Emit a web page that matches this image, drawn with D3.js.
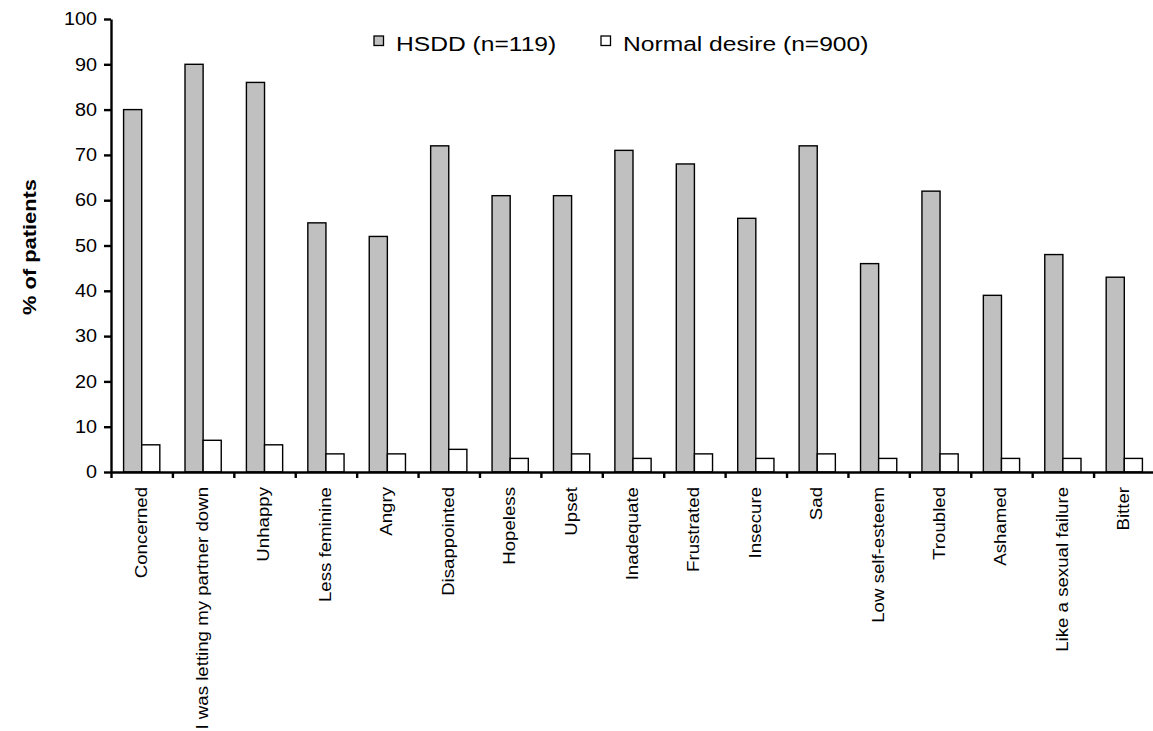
<!DOCTYPE html>
<html>
<head>
<meta charset="utf-8">
<script src="https://cdn.jsdelivr.net/npm/d3@7"></script>
<style>
  html, body { margin: 0; padding: 0; background: #fff; }
  svg { display: block; font-family: "Liberation Sans", Arial, sans-serif; }
</style>
</head>
<body>
<svg id="chart" width="1153" height="731"></svg>
<script>
// ─── Data ────────────────────────────────────────────────────────────────────
const categories = [
  'Concerned', 'I was letting my partner down', 'Unhappy', 'Less feminine',
  'Angry', 'Disappointed', 'Hopeless', 'Upset', 'Inadequate', 'Frustrated',
  'Insecure', 'Sad', 'Low self-esteem', 'Troubled', 'Ashamed',
  'Like a sexual failure', 'Bitter'
];
const seriesNames = ['HSDD (n=119)', 'Normal desire (n=900)'];
const hsdd   = [80, 90, 86, 55, 52, 72, 61, 61, 71, 68, 56, 72, 46, 62, 39, 48, 43];
const normal = [ 6,  7,  6,  4,  4,  5,  3,  4,  3,  4,  3,  4,  3,  4,  3,  3,  3];
const yTicks = [0, 10, 20, 30, 40, 50, 60, 70, 80, 90, 100];
const yTitle = '% of patients';

// ─── Layout ──────────────────────────────────────────────────────────────────
const X0 = 111, X1 = 1155;   // x axis extent
const Y0 = 472, Y1 = 19;     // y=0 and y=100
const FILLS = ['#c0c0c0', '#ffffff'];

// stretch a text along its baseline by k (source glyphs are wider than Arial)
function stretch(sel, k) {
  sel.each(function () {
    const len = this.getComputedTextLength();
    d3.select(this).attr('textLength', len * k).attr('lengthAdjust', 'spacingAndGlyphs');
  });
}

const svg = d3.select('#chart');

const x = d3.scaleBand()
  .domain(categories)
  .range([X0, X1])
  .paddingInner(0.41)
  .paddingOuter(0.205);

const xSub = d3.scaleBand()
  .domain(seriesNames)
  .range([0, x.bandwidth()]);

const y = d3.scaleLinear().domain([0, 100]).range([Y0, Y1]);

// boundary ticks sit between categories
const xEdge = d3.scaleLinear().domain([0, categories.length]).range([X0, X1]);

const rows = categories.map((c, i) => ({ cat: c, values: [hsdd[i], normal[i]] }));

// ── Bars ───────────────────────────────────────────────────────────────────
const group = svg.append('g')
  .selectAll('g')
  .data(rows)
  .join('g')
  .attr('transform', d => `translate(${x(d.cat)},0)`);

group.selectAll('rect')
  .data(d => d.values.map((v, k) => ({ name: seriesNames[k], v, k })))
  .join('rect')
  .attr('x', d => xSub(d.name))
  .attr('y', d => y(d.v))
  .attr('width', xSub.bandwidth())
  .attr('height', d => y(0) - y(d.v))
  .attr('fill', d => FILLS[d.k])
  .attr('stroke', '#000')
  .attr('stroke-width', 1.4);

// ── Y axis ─────────────────────────────────────────────────────────────────
const yAxis = svg.append('g')
  .attr('transform', `translate(${X0},0)`)
  .call(d3.axisLeft(y).tickValues(yTicks).tickSize(7).tickPadding(7).tickSizeOuter(0));
yAxis.select('.domain').attr('stroke-width', 2.4);
yAxis.selectAll('.tick line').attr('stroke-width', 2.4);
yAxis.selectAll('.tick text')
  .style('font-size', '18px')
  .style('font-family', '"Liberation Sans", Arial, sans-serif')
  .attr('fill', '#000')
  .call(stretch, 1.1);

// ── X axis ─────────────────────────────────────────────────────────────────
const xAxis = svg.append('g')
  .attr('transform', `translate(0,${Y0})`)
  .call(d3.axisBottom(xEdge).tickValues(d3.range(categories.length + 1))
    .tickFormat('').tickSize(6).tickSizeOuter(0));
xAxis.select('.domain').attr('stroke-width', 2.4);
xAxis.selectAll('.tick line').attr('stroke-width', 2.4);

svg.append('g')
  .selectAll('text')
  .data(categories)
  .join('text')
  .attr('transform', d => `translate(${x(d) + x.bandwidth() / 2 - 0.5},487) rotate(-90)`)
  .attr('dy', '0.33em')
  .attr('text-anchor', 'end')
  .style('font-size', '16.5px')
  .attr('fill', '#000')
  .text(d => d)
  .call(stretch, 1.13);

// ── Y title ────────────────────────────────────────────────────────────────
svg.append('text')
  .attr('transform', 'translate(36,247) rotate(-90)')
  .attr('text-anchor', 'middle')
  .style('font-size', '18.5px')
  .style('font-weight', 'bold')
  .attr('fill', '#000')
  .text(yTitle)
  .call(stretch, 1.18);

// ── Legend ─────────────────────────────────────────────────────────────────
const legendX = [374, 601];
const legend = svg.append('g')
  .selectAll('g')
  .data(seriesNames)
  .join('g')
  .attr('transform', (d, i) => `translate(${legendX[i]},36)`);

legend.append('rect')
  .attr('width', 9.5)
  .attr('height', 9.5)
  .attr('fill', (d, i) => FILLS[i])
  .attr('stroke', '#000')
  .attr('stroke-width', 1.3);

legend.append('text')
  .attr('x', 22)
  .attr('y', 15)
  .style('font-size', '20.5px')
  .attr('fill', '#000')
  .text(d => d)
  .call(stretch, 1.2);
</script>
</body>
</html>
